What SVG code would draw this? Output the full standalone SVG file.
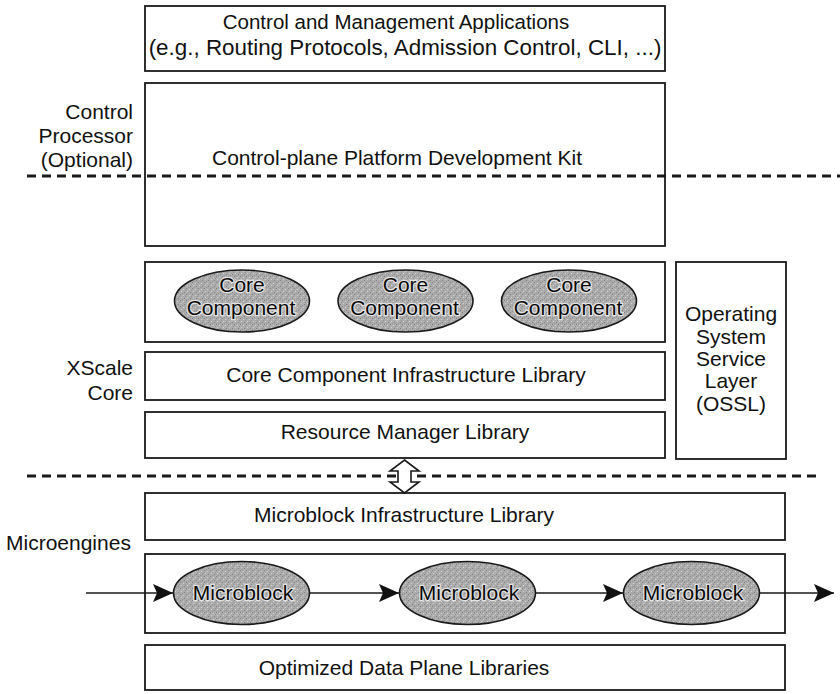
<svg xmlns="http://www.w3.org/2000/svg" width="840" height="694" viewBox="0 0 840 694">
  <style>
    .box { fill: #ffffff; stroke: #1a1a1a; stroke-width: 1.8; }
    .blob { fill: url(#grain); stroke: #1a1a1a; stroke-width: 1.6; }
    .t { font-family: "Liberation Sans", Arial, Helvetica, sans-serif; font-size: 21px; fill: #111111; }
    .c { text-anchor: middle; }
    .r { text-anchor: end; }
    .in { text-anchor: middle; stroke: #e4e4e4; stroke-width: 2.4; paint-order: stroke; fill: #0a0a0a; }
    .sep { stroke: #1a1a1a; stroke-width: 2.8; stroke-dasharray: 9 6; fill: none; }
    .flow { stroke: #1a1a1a; stroke-width: 1.6; fill: none; marker-end: url(#head); }
  </style>
  <defs>
    <!-- mottled halftone grey used inside the ellipses -->
    <pattern id="grain" width="6" height="6" patternUnits="userSpaceOnUse">
      <rect width="6" height="6" fill="#acacac"/>
      <rect x="0" y="0" width="1" height="1" fill="#7e7e7e"/>
      <rect x="3" y="1" width="1" height="1" fill="#d0d0d0"/>
      <rect x="1" y="3" width="1" height="1" fill="#d0d0d0"/>
      <rect x="4" y="4" width="1" height="1" fill="#7e7e7e"/>
      <rect x="2" y="5" width="1" height="1" fill="#929292"/>
      <rect x="5" y="2" width="1" height="1" fill="#929292"/>
    </pattern>
    <marker id="head" markerUnits="userSpaceOnUse" markerWidth="22" markerHeight="20" viewBox="0 0 22 20" refX="20" refY="10" orient="auto">
      <path d="M0,1 L20,10 L0,19 L4,10 Z" fill="#111111"/>
    </marker>
  </defs>

  <rect width="840" height="694" fill="#ffffff"/>

  <!-- layer separators -->
  <g id="separators">
    <line class="sep" x1="27" y1="176" x2="840" y2="176"/>
    <line class="sep" x1="27" y1="476" x2="816" y2="476"/>
  </g>

  <!-- side labels -->
  <g id="label-control-processor">
    <text class="t r" x="133" y="119">Control</text>
    <text class="t r" x="133" y="143">Processor</text>
    <text class="t r" x="133" y="167">(Optional)</text>
  </g>
  <g id="label-xscale">
    <text class="t r" x="133" y="375">XScale</text>
    <text class="t r" x="133" y="400">Core</text>
  </g>
  <g id="label-microengines">
    <text class="t" x="6" y="550">Microengines</text>
  </g>

  <!-- control plane -->
  <g id="applications">
    <rect class="box" x="145" y="6" width="520" height="65"/>
    <text class="t c" x="396" y="29" style="font-size:20.5px">Control and Management Applications</text>
    <text class="t c" x="405" y="55" style="font-size:22.4px">(e.g., Routing Protocols, Admission Control, CLI, ...)</text>
  </g>
  <g id="cpdk">
    <rect class="box" x="145" y="83" width="520" height="163" style="fill:none"/>
    <text class="t c" x="397" y="165">Control-plane Platform Development Kit</text>
  </g>

  <!-- XScale core -->
  <g id="core-components">
    <rect class="box" x="145" y="262" width="520" height="80"/>
    <g id="core-component-1">
      <ellipse class="blob" cx="242" cy="301" rx="67.5" ry="31"/>
      <text class="t in" x="242" y="292">Core</text>
      <text class="t in" x="241" y="315">Component</text>
    </g>
    <g id="core-component-2">
      <ellipse class="blob" cx="405.5" cy="301" rx="67.5" ry="31"/>
      <text class="t in" x="405.5" y="292">Core</text>
      <text class="t in" x="404.5" y="315">Component</text>
    </g>
    <g id="core-component-3">
      <ellipse class="blob" cx="569" cy="301" rx="67.5" ry="31"/>
      <text class="t in" x="569" y="292">Core</text>
      <text class="t in" x="568" y="315">Component</text>
    </g>
  </g>
  <g id="ccil">
    <rect class="box" x="145" y="352" width="520" height="48"/>
    <text class="t c" x="406" y="382">Core Component Infrastructure Library</text>
  </g>
  <g id="resource-manager">
    <rect class="box" x="145" y="412" width="520" height="46"/>
    <text class="t c" x="405" y="439">Resource Manager Library</text>
  </g>
  <g id="ossl">
    <rect class="box" x="676" y="262" width="110" height="197"/>
    <text class="t c" x="731" y="321">Operating</text>
    <text class="t c" x="731" y="344">System</text>
    <text class="t c" x="731" y="366">Service</text>
    <text class="t c" x="731" y="388">Layer</text>
    <text class="t c" x="731" y="411">(OSSL)</text>
  </g>

  <!-- microengines -->
  <g id="mil">
    <rect class="box" x="145" y="493" width="640" height="47"/>
    <text class="t c" x="404" y="522">Microblock Infrastructure Library</text>
  </g>
  <g id="microblocks">
    <rect class="box" x="145" y="554" width="640" height="79"/>
    <g id="microblock-1">
      <ellipse class="blob" cx="241.5" cy="593" rx="68" ry="31.5"/>
      <text class="t in" x="243" y="600">Microblock</text>
    </g>
    <g id="microblock-2">
      <ellipse class="blob" cx="467.5" cy="593" rx="68" ry="31.5"/>
      <text class="t in" x="469" y="600">Microblock</text>
    </g>
    <g id="microblock-3">
      <ellipse class="blob" cx="691.5" cy="593" rx="68" ry="31.5"/>
      <text class="t in" x="693" y="600">Microblock</text>
    </g>
  </g>
  <g id="odpl">
    <rect class="box" x="145" y="645" width="640" height="45"/>
    <text class="t c" x="404" y="675">Optimized Data Plane Libraries</text>
  </g>

  <!-- connectors -->
  <g id="connectors">
    <line class="flow" x1="86" y1="593" x2="173" y2="593"/>
    <line class="flow" x1="309.5" y1="593" x2="399" y2="593"/>
    <line class="flow" x1="535.5" y1="593" x2="623" y2="593"/>
    <line class="flow" x1="759.5" y1="593" x2="834" y2="593"/>
    <path d="M404.5,460 L419,471 L411,471 L411,482 L419,482 L404.5,493 L390,482 L398,482 L398,471 L390,471 Z" fill="#ffffff" stroke="#1a1a1a" stroke-width="1.6" stroke-linejoin="miter"/>
  </g>
</svg>
